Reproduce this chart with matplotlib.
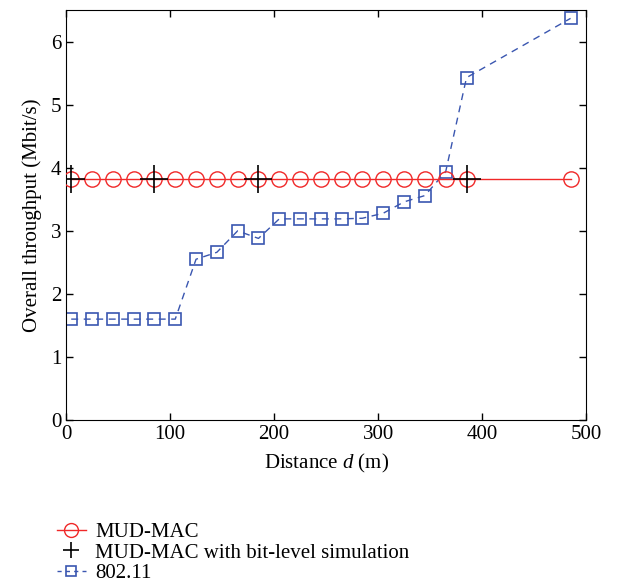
import matplotlib
matplotlib.use("Agg")
import matplotlib.pyplot as plt
from matplotlib.lines import Line2D

# data
dist_mud = [5, 25, 45, 65, 85, 105, 125, 145, 165, 185, 205, 225, 245, 265,
            285, 305, 325, 345, 365, 385, 485]
thr_mud = [3.82] * len(dist_mud)

dist_bit = [5, 85, 185, 385]
thr_bit = [3.82, 3.82, 3.82, 3.82]

dist_80211 = [5, 25, 45, 65, 85, 105, 125, 145, 165, 185, 205, 225, 245, 265,
              285, 305, 325, 345, 365, 385, 485]
thr_80211 = [1.6, 1.6, 1.6, 1.6, 1.6, 1.6, 2.55, 2.66, 3.0, 2.88, 3.19, 3.19,
             3.19, 3.19, 3.2, 3.28, 3.46, 3.56, 3.94, 5.43, 6.37]

labels = ['MUD-MAC', 'MUD-MAC with bit-level simulation', '802.11']

plt.rcParams['font.family'] = ['Liberation Serif', 'DejaVu Serif']
plt.rcParams['font.size'] = 15
plt.rcParams['mathtext.fontset'] = 'custom'
plt.rcParams['mathtext.it'] = 'Liberation Serif:italic'
plt.rcParams['mathtext.rm'] = 'Liberation Serif'

fig = plt.figure(figsize=(6.17, 5.88), dpi=100)
ax = fig.add_axes([0.107, 0.2857, 0.843, 0.697])

red = '#f02828'
blue = '#3a56b0'

ax.plot(dist_mud, thr_mud, '-', color=red, lw=1, marker='o', ms=11,
        mfc='none', mec=red, mew=1, zorder=3)
ax.plot(dist_bit, thr_bit, linestyle='none', color='black', marker='+',
        ms=20, mew=1.2, zorder=4)
ax.plot(dist_80211, thr_80211, '--', color=blue, lw=1, marker='s', ms=8.5,
        mfc='none', mec=blue, mew=1.2, dashes=(5, 4), zorder=2)

ax.set_xlim(0, 500)
ax.set_ylim(0, 6.5)
ax.set_xticks([0, 100, 200, 300, 400, 500])
ax.set_yticks([0, 1, 2, 3, 4, 5, 6])
ax.tick_params(direction='in', top=True, right=True, length=5, width=1)
ax.set_xlabel('Distance $\\it{d}$ (m)', labelpad=6)
ax.set_ylabel('Overall throughput (Mbit/s)', labelpad=6)

# legend handles with smaller markers, like the reference
h1 = Line2D([], [], color=red, lw=1, marker='o', ms=10, mfc='none', mec=red)
h2 = Line2D([], [], linestyle='none', color='black', marker='+', ms=11, mew=1.2)
h3 = Line2D([], [], color=blue, lw=1, linestyle='--', dashes=(3, 3), marker='s',
            ms=7, mfc='none', mec=blue, mew=1.2)
fig.legend(handles=[h1, h2, h3], labels=labels, loc='lower left',
           bbox_to_anchor=(0.092, 0.008), frameon=False, handlelength=1.4,
           handletextpad=0.45, borderpad=0, borderaxespad=0, labelspacing=0.05,
           fontsize=15)

fig.savefig('out.png', dpi=100)
